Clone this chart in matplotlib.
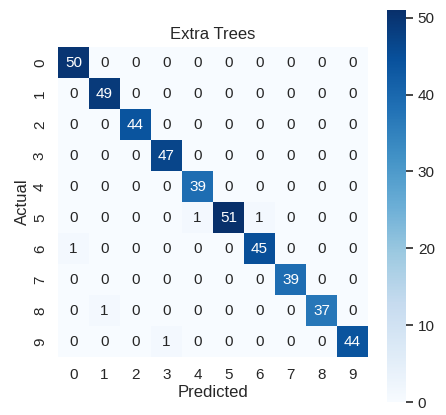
import numpy as np
import matplotlib
matplotlib.use("Agg")
import matplotlib.pyplot as plt
import seaborn as sns

labels = [str(i) for i in range(10)]
row0 = [50, 0, 0, 0, 0, 0, 0, 0, 0, 0]
row1 = [0, 49, 0, 0, 0, 0, 0, 0, 0, 0]
row2 = [0, 0, 44, 0, 0, 0, 0, 0, 0, 0]
row3 = [0, 0, 0, 47, 0, 0, 0, 0, 0, 0]
row4 = [0, 0, 0, 0, 39, 0, 0, 0, 0, 0]
row5 = [0, 0, 0, 0, 1, 51, 1, 0, 0, 0]
row6 = [1, 0, 0, 0, 0, 0, 45, 0, 0, 0]
row7 = [0, 0, 0, 0, 0, 0, 0, 39, 0, 0]
row8 = [0, 1, 0, 0, 0, 0, 0, 0, 37, 0]
row9 = [0, 0, 0, 1, 0, 0, 0, 0, 0, 44]
cm = np.array([row0, row1, row2, row3, row4, row5, row6, row7, row8, row9])

sns.set_theme(style="white")
plt.rcParams['font.family'] = ['Liberation Sans', 'DejaVu Sans']

fig = plt.figure(figsize=(4.46, 4.15), dpi=100)
ax = fig.add_axes([58/446, 1-357/415, 310/446, 310/415])
cax = fig.add_axes([387/446, 1-402/415, 19/446, 392/415])

sns.heatmap(cm, annot=True, fmt="d", cmap="Blues", square=True, ax=ax, cbar_ax=cax,
            xticklabels=labels, yticklabels=labels, annot_kws={"size": 11})
ax.set_title("Extra Trees", fontsize=12, color="#262626")
ax.set_xlabel("Predicted", fontsize=12, color="#262626", labelpad=2)
ax.set_ylabel("Actual", fontsize=12, color="#262626", labelpad=2)
ax.tick_params(axis="both", labelsize=11, length=0, colors="#262626", pad=8)
cax.tick_params(axis="y", right=True, length=5, width=1.2, labelsize=11, colors="#262626")
cax.set_yticks([0, 10, 20, 30, 40, 50])

fig.savefig("out.png", dpi=100)
